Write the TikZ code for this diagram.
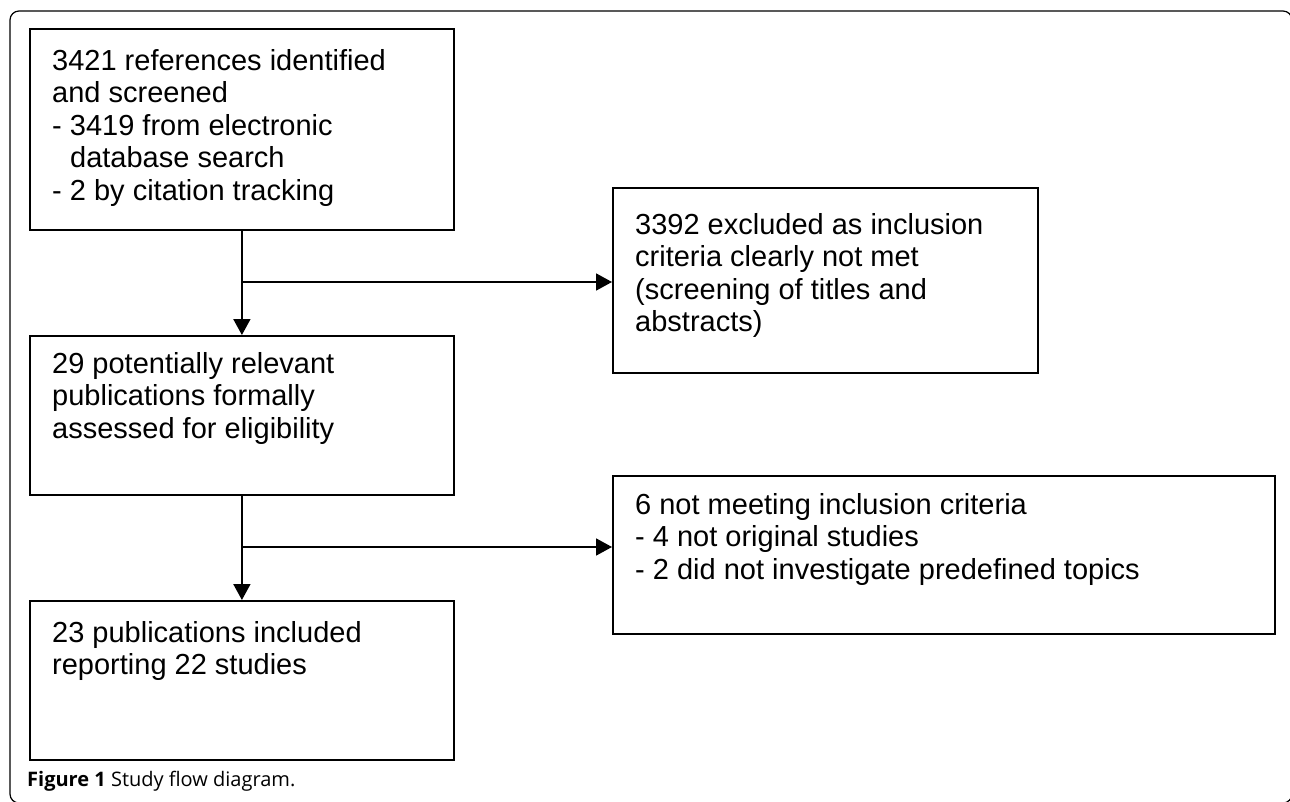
\documentclass[tikz,border=0pt]{standalone}
\usepackage{fontspec}
\setmainfont{Liberation Sans}
\newfontfamily\capfont{Open Sans}
\usetikzlibrary{arrows.meta}
\begin{document}
\begin{tikzpicture}[x=1pt,y=-1pt,
  box/.style={draw,line width=1.8pt,inner sep=0pt,rectangle},
  txt/.style={anchor=north west,inner sep=0pt,align=left,font=\fontsize{29}{32.5}\selectfont},
  arr/.style={line width=1.8pt,-{Triangle[length=16pt,width=17pt]}},
  conn/.style={line width=1.8pt}]
\useasboundingbox (0,0) rectangle (1290,802);
\fill[white] (0,0) rectangle (1290,802);
\draw[line width=1.2pt,rounded corners=9pt] (10,11) -- (1292,11) -- (1292,803) -- (10,803) -- cycle;
% boxes
\node[box,minimum width=424pt,minimum height=201pt,anchor=north west] (b1) at (29,28) {};
\node[box,minimum width=425pt,minimum height=185pt,anchor=north west] (r1) at (612,187) {};
\node[box,minimum width=424pt,minimum height=159pt,anchor=north west] (b2) at (29,335) {};
\node[box,minimum width=662pt,minimum height=158pt,anchor=north west] (r2) at (612,475) {};
\node[box,minimum width=424pt,minimum height=159pt,anchor=north west] (b3) at (29,600) {};
% texts
\node[txt] (t1) at (52,49) {3421 references identified\\and screened\\- 3419 from electronic\\\hspace*{0.62em}database search\\- 2 by citation tracking};
\node[txt] (t2) at (635,213) {3392 excluded as inclusion\\criteria clearly not met\\(screening of titles and\\abstracts)};
\node[txt] (t3) at (52,352) {29 potentially relevant\\publications formally\\assessed for eligibility};
\node[txt] (t4) at (635,493) {6 not meeting inclusion criteria\\- 4 not original studies\\- 2 did not investigate predefined topics};
\node[txt] (t5) at (52,621) {23 publications included\\reporting 22 studies};
% connectors
\coordinate (j1) at (241,282);
\coordinate (j2) at (241,547);
\draw[arr] (b1.south) -- (b2.north);
\draw[arr] (j1) -- (j1 -| r1.west);
\draw[arr] (b2.south) -- (b3.north);
\draw[arr] (j2) -- (j2 -| r2.west);
% caption
\node[anchor=base west,inner sep=0pt,font=\capfont\fontsize{20}{24}\selectfont] (cap) at (27,786) {\textbf{Figure 1} Study flow diagram.};
\end{tikzpicture}
\end{document}
